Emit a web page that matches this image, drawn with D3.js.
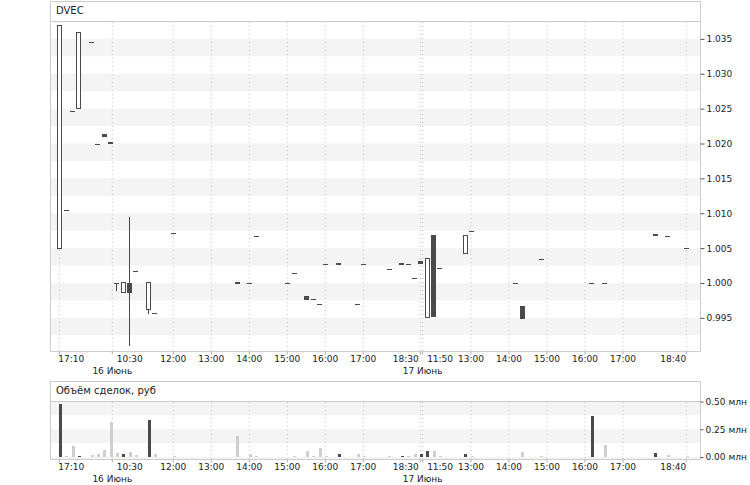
<!DOCTYPE html>
<html><head><meta charset="utf-8">
<script src="https://cdn.jsdelivr.net/npm/d3@7/dist/d3.min.js"></script>
<style>
body{margin:0;background:#fff;}
text{font-family:"DejaVu Sans",sans-serif;font-size:9px;fill:#222;}
text.title{font-size:10px;}
</style>
</head><body><svg id="c" width="750" height="485"></svg>
<script>
// ---- data ----
const sessionDays  = ["15", "16", "17"];
const sessionStart = ["17:10", "10:30", "11:50"];
const sessionEnd   = ["18:30", "18:30", "18:40"];
const dayNames = {"16": "16 Июнь", "17": "17 Июнь"};

const times = ["15 17:10","15 17:20","15 17:30","15 17:40","15 18:00","15 18:10","15 18:20","15 18:30",
  "16 10:30","16 10:40","16 10:50","16 11:00","16 11:20","16 11:30","16 12:00",
  "16 13:40","16 14:00","16 14:10","16 15:00","16 15:10","16 15:30","16 15:40","16 15:50","16 16:00",
  "16 16:20","16 16:50","16 17:00","16 17:40","16 18:00","16 18:10","16 18:20","16 18:30",
  "17 11:50","17 12:00","17 12:10","17 12:50","17 13:00","17 14:10","17 14:20","17 14:50",
  "17 16:10","17 16:30","17 17:50","17 18:10","17 18:40"];
const open = [1.0049,1.0104,1.0247,1.0250,1.0345,1.0200,1.0213,1.0202,
  1.0000,0.9987,1.0000,1.0017,0.9962,0.9957,1.0071,
  1.0001,1.0000,1.0067,1.0000,1.0015,0.9981,0.9977,0.9970,1.0027,1.0029,0.9970,1.0027,1.0020,1.0029,1.0027,1.0007,1.0031,
  0.9950,1.0069,1.0021,1.0042,1.0074,1.0000,0.9967,1.0035,1.0000,1.0000,1.0070,1.0068,1.0050];
const close = [1.0369,1.0104,1.0247,1.0359,1.0345,1.0200,1.0210,1.0199,
  1.0000,1.0000,0.9986,1.0017,1.0000,0.9957,1.0071,
  0.9999,1.0000,1.0067,1.0000,1.0015,0.9976,0.9977,0.9970,1.0027,1.0026,0.9970,1.0027,1.0020,1.0026,1.0027,1.0007,1.0027,
  1.0035,0.9951,1.0021,1.0068,1.0074,1.0000,0.9948,1.0035,1.0000,1.0000,1.0068,1.0068,1.0050];
const high = [1.0369,1.0104,1.0247,1.0359,1.0345,1.0200,1.0213,1.0202,
  1.0000,1.0000,1.0095,1.0017,1.0000,0.9957,1.0071,
  1.0001,1.0000,1.0067,1.0000,1.0015,0.9981,0.9977,0.9970,1.0027,1.0029,0.9970,1.0027,1.0020,1.0029,1.0027,1.0007,1.0031,
  1.0035,1.0069,1.0021,1.0068,1.0074,1.0000,0.9967,1.0035,1.0000,1.0000,1.0070,1.0068,1.0050];
const low = [1.0049,1.0104,1.0245,1.0250,1.0345,1.0200,1.0210,1.0199,
  0.9989,0.9987,0.9909,1.0017,0.9956,0.9957,1.0071,
  0.9999,1.0000,1.0067,1.0000,1.0015,0.9976,0.9977,0.9970,1.0027,1.0026,0.9970,1.0027,1.0020,1.0026,1.0027,1.0007,1.0027,
  0.9950,0.9951,1.0021,1.0042,1.0074,1.0000,0.9948,1.0035,1.0000,1.0000,1.0068,1.0068,1.0050];
const volume = [0.473,0.010,0.100,0.012,0.022,0.030,0.060,0.315,
  0.040,0.030,0.047,0.022,0.330,0.030,0.010,
  0.190,0.030,0.010,0.004,0.010,0.053,0.012,0.083,0.010,0.027,0.030,0.010,0.010,0.012,0.012,0.030,0.030,
  0.058,0.058,0.012,0.030,0.010,0.004,0.047,0.010,0.370,0.110,0.040,0.020,0.010];
const volSide = [1,0,0,1,0,0,0,0, 0,1,0,0,1,0,0,
  0,0,0,0,0,0,0,0,0,1,0,0,0,1,0,0,1,
  1,0,0,1,0,0,0,0,1,0,1,0,0];

const priceTicks = [0.995,1.000,1.005,1.010,1.015,1.020,1.025,1.030,1.035];
const volTicks = [0, 0.25, 0.5];
const xTickTimes = ["15 17:10","16 10:30","16 12:00","16 13:00","16 14:00","16 15:00","16 16:00","16 17:00","16 18:30",
  "17 11:50","17 13:00","17 14:00","17 15:00","17 16:00","17 17:00","17 18:40"];
const title1 = "DVEC", title2 = "Объём  сделок, руб";

// ---- slots (10-minute bars, trading sessions only) ----
const toMin = s => { const [h, m] = s.split(":").map(Number); return h * 60 + m; };
const fmt = m => String(Math.floor(m / 60)).padStart(2, "0") + ":" + String(m % 60).padStart(2, "0");
const slots = [], sessionFirst = new Set();
sessionDays.forEach((d, i) => {
  for (let m = toMin(sessionStart[i]); m <= toMin(sessionEnd[i]); m += 10) {
    if (m === toMin(sessionStart[i])) sessionFirst.add(slots.length);
    slots.push(d + " " + fmt(m));
  }
});
const slotIdx = new Map(slots.map((s, i) => [s, i]));
const lastSlot = slots.length - 1;
const sessionLast = new Set([...sessionFirst].filter(i => i > 0).map(i => i - 1).concat([lastSlot]));

const L = 50, R = 700;
const x = d3.scaleLinear().domain([0, lastSlot]).range([59.3, 686.3]);
const xs = t => x(slotIdx.get(t));

const P = {top: 22, bottom: 351};
const V = {top: 402, bottom: 459};
const y = d3.scaleLinear().domain([0.99025, 1.03742]).range([P.bottom, P.top]);
const yv = d3.scaleLinear().domain([0, 0.5]).range([457, 401.5]);

const svg = d3.select("#c");
const dark = "#4a4a4a", frame = "#cccccc", stripe = "#f4f4f4", lightBar = "#cfcfcf";

const candles = times.map((t, i) => ({t, o: open[i], c: close[i], h: high[i], l: low[i], v: volume[i], s: volSide[i]}));

function panel(top, bottom, headerTop, title, yScale, ticks, half, fmtTick, tickLen) {
  const g = svg.append("g");
  const clipId = "clip" + top;
  svg.append("clipPath").attr("id", clipId).append("rect")
    .attr("x", L + 1).attr("y", top).attr("width", R - L - 1).attr("height", bottom - top);
  g.append("g").attr("clip-path", `url(#${clipId})`).selectAll("rect").data(ticks).join("rect")
    .attr("x", L + 1).attr("width", R - L - 1)
    .attr("y", d => yScale(d)).attr("height", d => yScale(d - half) - yScale(d))
    .attr("fill", stripe);
  const gx = xTickTimes.map(t => {
    const i = slotIdx.get(t);
    return (sessionFirst.has(i) && i > 0) ? x(i - 0.63) : x(i);
  });
  g.append("g").selectAll("line").data(gx).join("line")
    .attr("x1", d => d).attr("x2", d => d).attr("y1", top).attr("y2", bottom)
    .attr("stroke", "#c4c4c4").attr("stroke-dasharray", "1,3");
  g.append("g").selectAll("line").data(gx).join("line")
    .attr("x1", d => d).attr("x2", d => d).attr("y1", bottom + 0.5).attr("y2", bottom + 3.5)
    .attr("stroke", "#aaa");
  g.append("rect").attr("x", L + 0.5).attr("y", headerTop + 0.5).attr("width", R - L).attr("height", top - headerTop - 1)
    .attr("fill", "none").attr("stroke", frame);
  g.append("path").attr("d", `M${L + 0.5},${top - 0.5}V${bottom + 0.5}H${R + 0.5}V${top - 0.5}`)
    .attr("fill", "none").attr("stroke", frame);
  g.append("text").attr("class", "title").attr("x", L + 6).attr("y", headerTop + 13.3).text(title);
  const ay = g.append("g").attr("transform", `translate(${R + 0.5},0)`)
    .call(d3.axisRight(yScale).tickValues(ticks).tickSize(tickLen).tickPadding(2).tickFormat(fmtTick));
  ay.select(".domain").remove();
  ay.selectAll(".tick line").attr("stroke", "#555");
  ay.selectAll(".tick text").attr("font-family", "DejaVu Sans").attr("font-size", 9).attr("fill", "#222");
  const lbl = g.append("g");
  xTickTimes.forEach(t => {
    const i = slotIdx.get(t);
    let anchor = "middle", px = x(i);
    if (sessionFirst.has(i)) { anchor = "start"; px = x(i) + (i === 0 ? -1 : 0.5); }
    else if (sessionLast.has(i)) { anchor = "end"; px = x(i) - (i === lastSlot ? 0 : 1.5); }
    lbl.append("text").attr("x", px).attr("y", bottom + 11).attr("text-anchor", anchor).text(t.split(" ")[1]);
    const d = t.split(" ")[0];
    if (sessionFirst.has(i) && i > 0 && dayNames[d]) {
      lbl.append("text").attr("x", x(i - 0.63)).attr("y", bottom + 23).attr("text-anchor", "middle").text(dayNames[d]);
    }
  });
  return g;
}

panel(P.top, P.bottom, 1, title1, y, priceTicks, 0.0025, d3.format(".3f"), 4);
panel(V.top, V.bottom, 381, title2, yv, volTicks, 0.125, d => d3.format(".2f")(d) + " млн", 3);

// ---- candles ----
const cg = svg.append("g").attr("shape-rendering", "crispEdges");
const bw = 5;
cg.selectAll("line.wick").data(candles.filter(d => d.h > Math.max(d.o, d.c) || d.l < Math.min(d.o, d.c))).join("line")
  .attr("class", "wick")
  .attr("x1", d => Math.round(xs(d.t)) + 0.5).attr("x2", d => Math.round(xs(d.t)) + 0.5)
  .attr("y1", d => y(d.h)).attr("y2", d => y(d.l)).attr("stroke", dark);
const flat = d => Math.abs(y(d.o) - y(d.c)) < 1;
cg.selectAll("line.flat").data(candles.filter(flat)).join("line")
  .attr("class", "flat")
  .attr("x1", d => Math.round(xs(d.t)) - 2).attr("x2", d => Math.round(xs(d.t)) + 3)
  .attr("y1", d => Math.round(y(d.o)) + 0.5).attr("y2", d => Math.round(y(d.o)) + 0.5)
  .attr("stroke", dark);
cg.selectAll("rect.up").data(candles.filter(d => !flat(d) && d.c > d.o)).join("rect")
  .attr("class", "up")
  .attr("x", d => Math.round(xs(d.t)) - 1.5).attr("width", bw - 1)
  .attr("y", d => y(d.c)).attr("height", d => y(d.o) - y(d.c))
  .attr("fill", "#fff").attr("stroke", dark);
cg.selectAll("rect.down").data(candles.filter(d => !flat(d) && d.c < d.o)).join("rect")
  .attr("class", "down")
  .attr("x", d => Math.round(xs(d.t)) - 2).attr("width", bw)
  .attr("y", d => y(d.o)).attr("height", d => Math.max(2, y(d.c) - y(d.o)))
  .attr("fill", dark);

// ---- volume bars ----
svg.append("g").attr("shape-rendering", "crispEdges").selectAll("rect").data(candles).join("rect")
  .attr("x", d => xs(d.t) - 0.3).attr("width", 3)
  .attr("y", d => yv(d.v)).attr("height", d => yv(0) - yv(d.v))
  .attr("fill", d => d.s ? dark : lightBar);
</script>
</body></html>
